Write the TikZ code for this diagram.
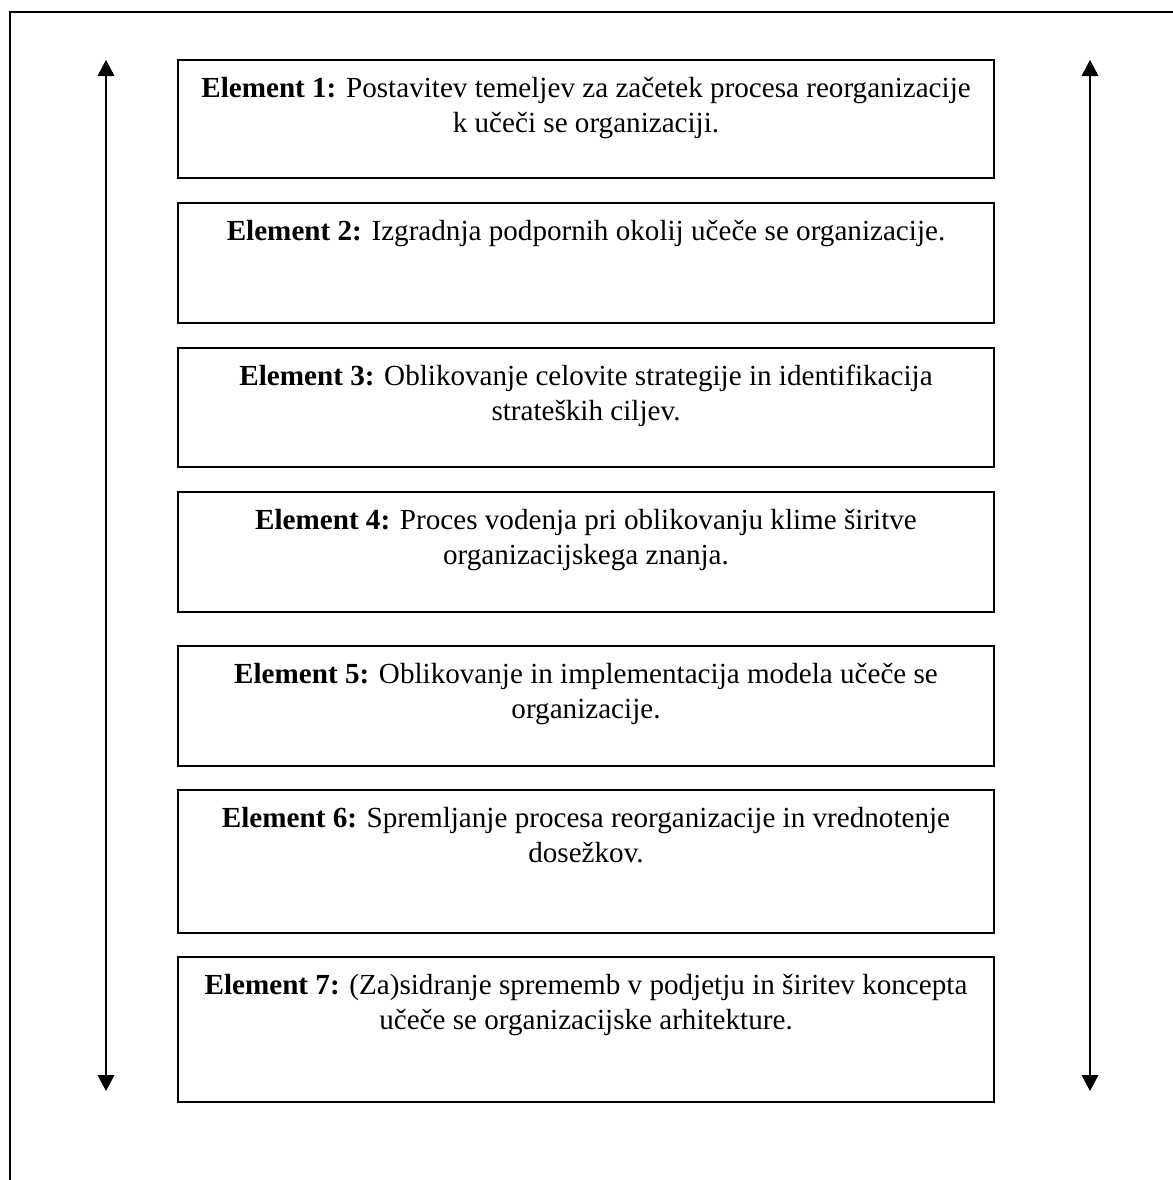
\documentclass[tikz,border=0pt]{standalone}
\usepackage{fontspec}
\setmainfont{Liberation Serif}
\usetikzlibrary{arrows.meta}

\begin{document}
\begin{tikzpicture}[x=0.4pt,y=-0.4pt,
    elbox/.style={draw, line width=0.8pt, minimum width=326.4pt, inner sep=0pt, outer sep=0pt},
    eltext/.style={anchor=base, align=center, font=\fontsize{11.65pt}{14pt}\selectfont, inner sep=0pt},
    oneline/.style={eltext, yshift=-14.8pt},
    twoline/.style={eltext, yshift=-28.8pt},
    sidearrow/.style={line width=0.8pt, {Triangle[width=6.6pt,length=6.4pt]}-{Triangle[width=6.6pt,length=6.4pt]}},
    frameline/.style={line width=0.7pt}]
  \useasboundingbox (0,0) rectangle (1173,1180);

  % outer frame (open to the right and bottom)
  \coordinate (fbl) at (10,1182);
  \coordinate (ftl) at (10,12);
  \coordinate (ftr) at (1175,12);
  \draw[frameline] (fbl) -- (ftl) -- (ftr);

  % element boxes
  \node[elbox, minimum height=47.2pt] (e1) at (586,119) {};
  \node[elbox, minimum height=48pt]   (e2) at (586,263) {};
  \node[elbox, minimum height=47.6pt] (e3) at (586,407.5) {};
  \node[elbox, minimum height=48pt]   (e4) at (586,552) {};
  \node[elbox, minimum height=48pt]   (e5) at (586,706) {};
  \node[elbox, minimum height=57.2pt] (e6) at (586,861.5) {};
  \node[elbox, minimum height=58pt]   (e7) at (586,1029.5) {};

  % box texts, first baseline 37px below each top edge
  \node[twoline] (t1) at (e1.north) {\textbf{Element 1:} Postavitev temeljev za začetek procesa reorganizacije\\ k učeči se organizaciji.};
  \node[oneline] (t2) at (e2.north) {\textbf{Element 2:} Izgradnja podpornih okolij učeče se organizacije.};
  \node[twoline] (t3) at (e3.north) {\textbf{Element 3:} Oblikovanje celovite strategije in identifikacija\\ strateških ciljev.};
  \node[twoline] (t4) at (e4.north) {\textbf{Element 4:} Proces vodenja pri oblikovanju klime širitve\\ organizacijskega znanja.};
  \node[twoline] (t5) at (e5.north) {\textbf{Element 5:} Oblikovanje in implementacija modela učeče se\\ organizacije.};
  \node[twoline] (t6) at (e6.north) {\textbf{Element 6:} Spremljanje procesa reorganizacije in vrednotenje\\ dosežkov.};
  \node[twoline] (t7) at (e7.north) {\textbf{Element 7:} (Za)sidranje sprememb v podjetju in širitev koncepta\\ učeče se organizacijske arhitekture.};

  % double-headed side arrows
  \coordinate (lt) at (106,60);
  \coordinate (lb) at (106,1091);
  \coordinate (rt) at (1090,60);
  \coordinate (rb) at (1090,1091);
  \draw[sidearrow] (lt) -- (lb);
  \draw[sidearrow] (rt) -- (rb);
\end{tikzpicture}
\end{document}
